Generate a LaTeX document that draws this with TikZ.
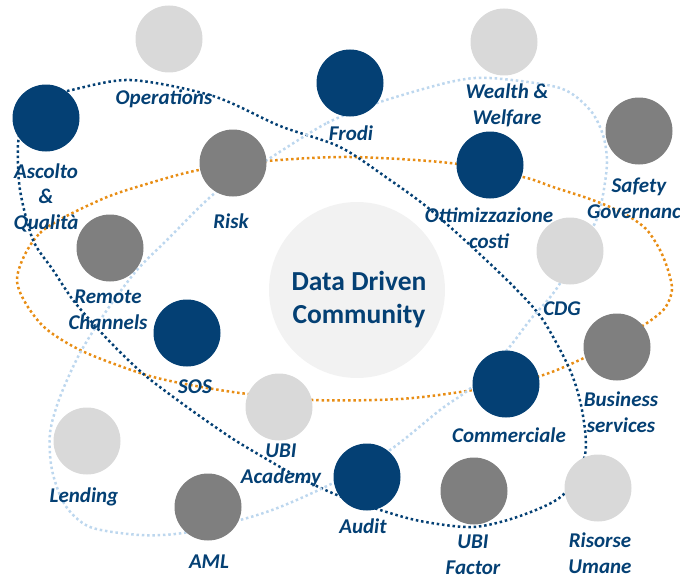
\documentclass[tikz,border=0pt]{standalone}
\usepackage{fontspec}
\setmainfont{Carlito}
\usepackage{tikz}
\usetikzlibrary{backgrounds}
\definecolor{ddnavy}{RGB}{4,64,116}
\definecolor{ddgray}{RGB}{127,127,127}
\definecolor{ddlight}{RGB}{217,217,217}
\definecolor{ddcore}{RGB}{242,242,242}
\definecolor{ddorange}{RGB}{232,141,20}
\definecolor{ddsky}{RGB}{189,215,238}
\begin{document}
\begin{tikzpicture}[x=1pt, y=-1pt]
\tikzstyle{blob}=[circle, inner sep=0pt, minimum size=67pt]
\tikzstyle{lbl}=[font=\fontsize{21}{25.5}\selectfont\bfseries\itshape, text=ddnavy,
                 align=center, anchor=base, inner sep=0pt]
\tikzstyle{ring}=[line width=2.5pt, dash pattern=on 2.5pt off 2.8pt]
\useasboundingbox (0,0) rectangle (680,578);
\begin{scope}[on background layer]
\draw[ring, ddorange] plot[smooth cycle] coordinates {(17,280) (40,233) (100,200) (150,183) (199,170) (267,161) (350,157) (450,163) (523,177) (553,187) (587,198) (610,207) (630,217) (647,230) (660,250) (668,270) (672,290) (665,308) (647,323) (615,342) (584,358) (540,376) (473,390) (400,399) (313,400) (240,393) (180,383) (140,373) (80,350) (40,323)};
\draw[ring, ddnavy] plot[smooth cycle] coordinates {(40,97) (67,91) (130,80) (213,96) (280,126) (340,147) (390,180) (427,207) (470,245) (515,288) (543,320) (570,370) (582,410) (585,455) (563,495) (520,516) (473,527) (420,521) (377,509) (337,495) (300,478) (263,457) (230,437) (187,407) (147,377) (120,352) (97,328) (73,300) (53,270) (33,240) (20,190) (18,145) (24,120)};
\draw[ring, ddsky] plot[smooth cycle] coordinates {(267,160) (327,123) (380,102) (450,82) (490,78) (560,88) (590,110) (603,135) (607,163) (602,200) (594,225) (557,288) (530,320) (507,350) (472,387) (440,410) (390,450) (333,483) (280,507) (240,520) (183,533) (140,535) (90,527) (65,505) (52,470) (50,433) (60,397) (80,353) (107,310) (137,270) (167,240) (215,193)};
\end{scope}
\node[blob, minimum size=176pt, fill=ddcore] (core) at (357,290) {};
\node[font=\fontsize{27.5}{33}\selectfont\bfseries, text=ddnavy, align=center, anchor=base] (coretxt) at (359,323) {Data Driven\\Community};
\foreach \n/\x/\y/\c in {ops/169/39/ddlight, asc/46/118/ddnavy, risk/233/163/ddgray,
  frodi/350/83/ddnavy, wealth/504/42/ddlight, safety/639/131/ddgray, ottim/490/165/ddnavy,
  cdg/570/251/ddlight, remote/110/248/ddgray, sos/187/333/ddnavy, acad/279/407/ddlight,
  lend/87/441/ddlight, aml/208/507/ddgray, audit/367/477/ddnavy, comm/506/384/ddnavy,
  business/617/347/ddgray, fact/474/491/ddgray, risorse/598/488/ddlight}
  {\node[blob, fill=\c] (\n) at (\x,\y) {};}
% multi-line labels: y is the baseline of the last line
\foreach \n/\x/\y/\t in {opslbl/164/104/Operations, asclbl/46/229/{Ascolto\\\&\\Qualità},
  risklbl/231/228/Risk, frodilbl/351/140/Frodi, wealthlbl/507/124/{Wealth \&\\Welfare},
  safetylbl/639/218/{Safety\\Governance}, ottimlbl/489/248/{Ottimizzazione\\costi},
  cdglbl/562/315/CDG, remotelbl/108/329/{Remote\\Channels}, soslbl/195/393/SOS,
  acadlbl/281/483/{UBI\\Academy}, lendlbl/84/502/Lending, amllbl/209/568/AML,
  auditlbl/363/533/Audit, commlbl/509/442/Commerciale, businesslbl/621/432/{Business\\services},
  factlbl/473/574/{UBI\\Factor}, risorselbl/600/573/{Risorse\\Umane}}
  {\node[lbl] (\n) at (\x,\y) {\t};}
\end{tikzpicture}
\end{document}
